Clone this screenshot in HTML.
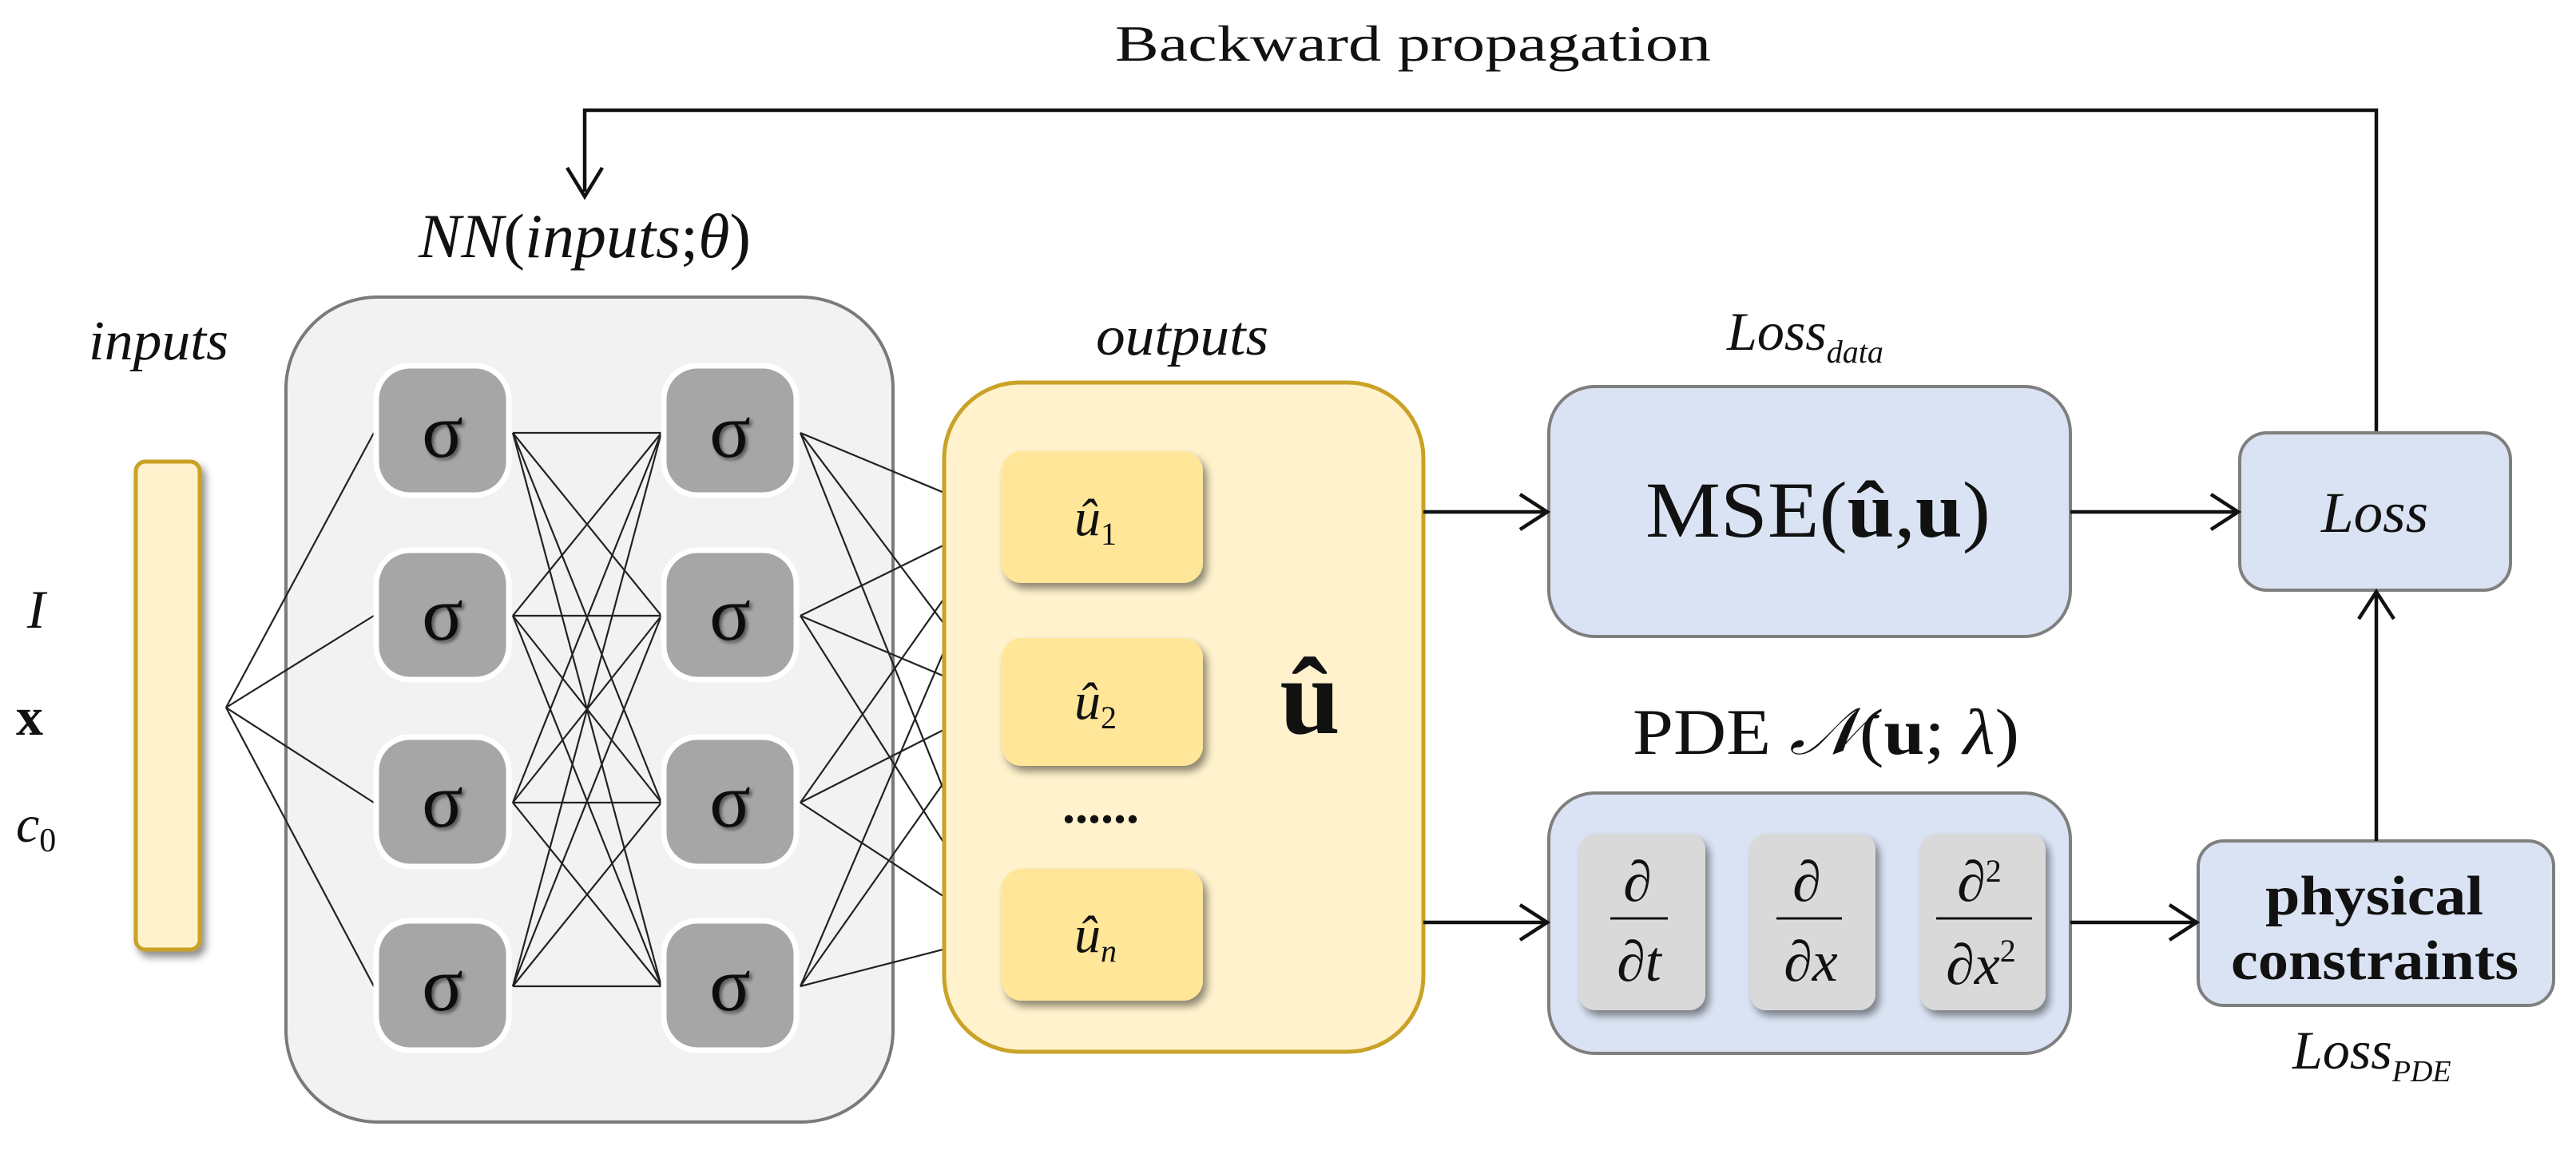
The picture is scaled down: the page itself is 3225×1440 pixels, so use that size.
<!DOCTYPE html>
<html><head><meta charset="utf-8"><style>
html,body{margin:0;padding:0;background:#fff;}
svg{display:block;}
text{font-family:"Liberation Serif","DejaVu Serif",serif;fill:#111;}
</style></head><body>
<svg width="3225" height="1440" viewBox="0 0 3225 1440" xmlns="http://www.w3.org/2000/svg">
<defs>
<filter id="sh" x="-30%" y="-30%" width="160%" height="160%"><feGaussianBlur in="SourceAlpha" stdDeviation="5"/><feOffset dx="5" dy="7"/><feComponentTransfer><feFuncA type="linear" slope="0.45"/></feComponentTransfer><feMerge><feMergeNode/><feMergeNode in="SourceGraphic"/></feMerge></filter>
<filter id="ts" x="-20%" y="-20%" width="140%" height="140%"><feGaussianBlur in="SourceAlpha" stdDeviation="2"/><feOffset dx="3" dy="3"/><feComponentTransfer><feFuncA type="linear" slope="0.5"/></feComponentTransfer><feMerge><feMergeNode/><feMergeNode in="SourceGraphic"/></feMerge></filter>
</defs>

<text x="1396" y="76" font-size="64" textLength="746" lengthAdjust="spacingAndGlyphs">Backward propagation</text>
<polyline points="732,240 732,138 2975,138 2975,542" fill="none" stroke="#111" stroke-width="4.5"/>
<polyline points="710,210 732,246 754,210" fill="none" stroke="#111" stroke-width="4.5"/>

<text x="524" y="322" font-size="78" textLength="416" lengthAdjust="spacingAndGlyphs"><tspan font-style="italic">NN</tspan>(<tspan font-style="italic">inputs</tspan>;<tspan font-style="italic">θ</tspan>)</text>

<rect x="358" y="372" width="760" height="1033" rx="115" fill="#f2f2f2" stroke="#7a7a7a" stroke-width="4"/>

<text x="111" y="450" font-size="70" font-style="italic" textLength="175" lengthAdjust="spacingAndGlyphs">inputs</text>
<rect x="170" y="578" width="80" height="611" rx="12" fill="#fff2cc" stroke="#c9a227" stroke-width="5" filter="url(#sh)"/>
<text x="34" y="786" font-size="68" font-style="italic">I</text>
<text x="20" y="920" font-size="68" font-weight="bold">x</text>
<text x="20" y="1054" font-size="66" font-style="italic">c<tspan font-size="42" font-style="normal" dy="12">0</tspan></text>

<g stroke="#222" stroke-width="2.2" fill="none">
<line x1="283" y1="886" x2="468" y2="542"/><line x1="283" y1="886" x2="468" y2="771"/><line x1="283" y1="886" x2="468" y2="1005"/><line x1="283" y1="886" x2="468" y2="1235"/>
<line x1="642" y1="542" x2="828" y2="542"/><line x1="642" y1="542" x2="828" y2="771"/><line x1="642" y1="542" x2="828" y2="1005"/><line x1="642" y1="542" x2="828" y2="1235"/>
<line x1="642" y1="771" x2="828" y2="542"/><line x1="642" y1="771" x2="828" y2="771"/><line x1="642" y1="771" x2="828" y2="1005"/><line x1="642" y1="771" x2="828" y2="1235"/>
<line x1="642" y1="1005" x2="828" y2="542"/><line x1="642" y1="1005" x2="828" y2="771"/><line x1="642" y1="1005" x2="828" y2="1005"/><line x1="642" y1="1005" x2="828" y2="1235"/>
<line x1="642" y1="1235" x2="828" y2="542"/><line x1="642" y1="1235" x2="828" y2="771"/><line x1="642" y1="1235" x2="828" y2="1005"/><line x1="642" y1="1235" x2="828" y2="1235"/>
<line x1="1002" y1="542" x2="1254" y2="647"/><line x1="1002" y1="542" x2="1254" y2="877"/><line x1="1002" y1="542" x2="1254" y2="1170"/>
<line x1="1002" y1="771" x2="1254" y2="647"/><line x1="1002" y1="771" x2="1254" y2="877"/><line x1="1002" y1="771" x2="1254" y2="1170"/>
<line x1="1002" y1="1005" x2="1254" y2="647"/><line x1="1002" y1="1005" x2="1254" y2="877"/><line x1="1002" y1="1005" x2="1254" y2="1170"/>
<line x1="1002" y1="1235" x2="1254" y2="647"/><line x1="1002" y1="1235" x2="1254" y2="877"/><line x1="1002" y1="1235" x2="1254" y2="1170"/>
</g>

<g fill="#a6a6a6" stroke="#ffffff" stroke-width="7">
<rect x="471" y="458" width="166" height="162" rx="42"/><rect x="471" y="689" width="166" height="162" rx="42"/><rect x="471" y="923" width="166" height="162" rx="42"/><rect x="471" y="1153" width="166" height="162" rx="42"/>
<rect x="831" y="458" width="166" height="162" rx="42"/><rect x="831" y="689" width="166" height="162" rx="42"/><rect x="831" y="923" width="166" height="162" rx="42"/><rect x="831" y="1153" width="166" height="162" rx="42"/>
</g>
<g font-size="96" text-anchor="middle" filter="url(#ts)" font-family="'DejaVu Sans',sans-serif">
<text x="554" y="572">σ</text><text x="554" y="801">σ</text><text x="554" y="1035">σ</text><text x="554" y="1265">σ</text>
<text x="914" y="572">σ</text><text x="914" y="801">σ</text><text x="914" y="1035">σ</text><text x="914" y="1265">σ</text>
</g>

<text x="1372" y="444" font-size="70" font-style="italic" textLength="216" lengthAdjust="spacingAndGlyphs">outputs</text>
<rect x="1182" y="479" width="600" height="838" rx="95" fill="#fff2cc" stroke="#c9a227" stroke-width="5"/>
<g fill="#ffe699" filter="url(#sh)">
<rect x="1254" y="565" width="252" height="165" rx="25"/><rect x="1254" y="799" width="252" height="160" rx="25"/><rect x="1254" y="1088" width="252" height="165" rx="25"/>
</g>
<g font-size="66" font-style="italic">
<text x="1345" y="670">û<tspan font-size="40" font-style="normal" dy="12">1</tspan></text>
<text x="1345" y="900">û<tspan font-size="40" font-style="normal" dy="12">2</tspan></text>
<text x="1345" y="1192">û<tspan font-size="40" dy="12">n</tspan></text>
</g>
<text x="1378" y="1030" font-size="64" font-weight="bold" text-anchor="middle">......</text>
<text x="1640" y="918" font-size="136" font-weight="bold" text-anchor="middle">û</text>

<text x="2162" y="438" font-size="68" font-style="italic">Loss<tspan font-size="40" dy="16">data</tspan></text>
<rect x="1939" y="484" width="653" height="313" rx="58" fill="#dae3f3" stroke="#7f7f7f" stroke-width="4"/>
<text x="2060" y="672" font-size="100" textLength="432" lengthAdjust="spacingAndGlyphs">MSE(<tspan font-weight="bold">û</tspan>,<tspan font-weight="bold">u</tspan>)</text>

<rect x="2804" y="542" width="339" height="197" rx="34" fill="#dae3f3" stroke="#7f7f7f" stroke-width="4"/>
<text x="2906" y="666" font-size="72" font-style="italic" textLength="134" lengthAdjust="spacingAndGlyphs">Loss</text>

<text x="2044" y="944" font-size="82" textLength="484" lengthAdjust="spacingAndGlyphs">PDE <tspan font-style="italic" font-family="'DejaVu Serif',serif">𝒩</tspan>(<tspan font-weight="bold">u</tspan>; <tspan font-style="italic">λ</tspan>)</text>
<rect x="1939" y="993" width="653" height="326" rx="58" fill="#dae3f3" stroke="#7f7f7f" stroke-width="4"/>
<g fill="#d9d9d9" filter="url(#sh)">
<rect x="1977" y="1044" width="158" height="221" rx="20"/><rect x="2191" y="1044" width="157" height="221" rx="20"/><rect x="2404" y="1044" width="157" height="221" rx="20"/>
</g>
<g font-size="72" font-style="italic" text-anchor="middle">
<text x="2050" y="1128">∂</text><text x="2052" y="1228">∂t</text>
<text x="2262" y="1128">∂</text><text x="2267" y="1228">∂x</text>
<text x="2478" y="1128">∂<tspan font-size="40" font-style="normal" dy="-24">2</tspan></text><text x="2480" y="1232">∂x<tspan font-size="40" font-style="normal" dy="-28">2</tspan></text>
</g>
<g stroke="#111" stroke-width="3">
<line x1="2016" y1="1150" x2="2088" y2="1150"/><line x1="2224" y1="1150" x2="2306" y2="1150"/><line x1="2424" y1="1150" x2="2544" y2="1150"/>
</g>

<rect x="2752" y="1053" width="445" height="206" rx="32" fill="#dae3f3" stroke="#7f7f7f" stroke-width="4"/>
<text x="2836" y="1145" font-size="70" font-weight="bold" textLength="273" lengthAdjust="spacingAndGlyphs">physical</text>
<text x="2793" y="1226" font-size="70" font-weight="bold" textLength="360" lengthAdjust="spacingAndGlyphs">constraints</text>
<text x="2870" y="1338" font-size="68" font-style="italic">Loss<tspan font-size="38" dy="16">PDE</tspan></text>

<g stroke="#111" stroke-width="4.5" fill="none">
<line x1="1782" y1="641" x2="1935" y2="641"/><polyline points="1903,619 1937,641 1903,663"/>
<line x1="2592" y1="641" x2="2800" y2="641"/><polyline points="2768,619 2802,641 2768,663"/>
<line x1="1782" y1="1155" x2="1935" y2="1155"/><polyline points="1903,1133 1937,1155 1903,1177"/>
<line x1="2592" y1="1155" x2="2748" y2="1155"/><polyline points="2716,1133 2750,1155 2716,1177"/>
<line x1="2975" y1="1053" x2="2975" y2="743"/><polyline points="2953,775 2975,741 2997,775"/>
</g>
</svg>
</body></html>
